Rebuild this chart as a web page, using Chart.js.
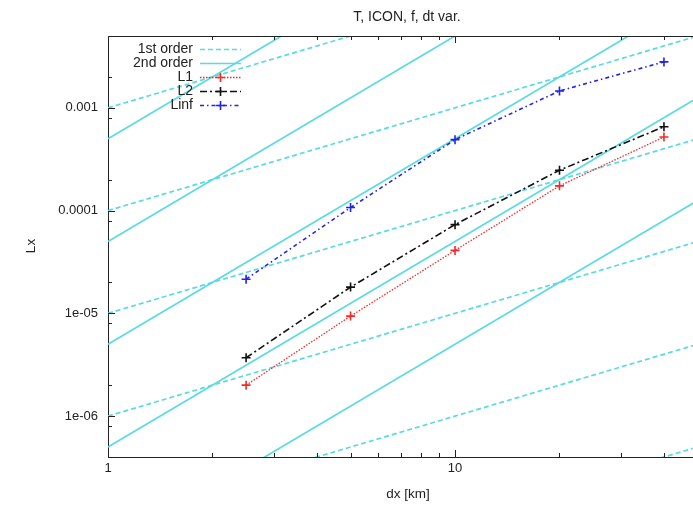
<!DOCTYPE html>
<html>
<head>
<meta charset="utf-8">
<script src="https://cdn.jsdelivr.net/npm/chart.js@4.4.1/dist/chart.umd.min.js"></script>
<style>
html,body{margin:0;padding:0;background:#fff;overflow:hidden}
</style>
</head>
<body>
<canvas id="c" width="693" height="505"></canvas>
<script>
// measured errors vs grid spacing
const DX=[2.5,5,10,20,40];
const L1=[2.0e-6,9.4e-6,4.1e-5,1.74e-4,5.2e-4];
const L2=[3.7e-6,1.8e-5,7.3e-5,2.47e-4,6.55e-4];
const LINF=[2.15e-5,1.07e-4,4.9e-4,1.46e-3,2.8e-3];

// reference slopes, end values at dx=1 and dx=100
const REF_X=[1,100];
const FIRST_ORDER=[[1e-3,1e-1],[1e-4,1e-2],[1e-5,1e-3],[1e-6,1e-4],[1e-7,1e-5],[1e-8,1e-6]];
const SECOND_ORDER=[[5e-4,5],[5e-5,5e-1],[5e-6,5e-2],[5e-7,5e-3],[5e-8,5e-4]];

// axes
const X_MAJOR=[1,10];
const X_LABELS=['1','10'];
const X_MINOR=[2,3,4,5,6,7,8,9,20,30,40];
const Y_MAJOR=[1e-6,1e-5,1e-4,1e-3];
const Y_LABELS=['1e-06','1e-05','0.0001','0.001'];
const Y_MINOR=[8e-7,2e-6,8e-6,2e-5,8e-5,2e-4,8e-4,2e-3];

const FONT='"Liberation Sans", Arial, sans-serif';
const CYAN='#5adbe0';

function refSet(vals,i,label,dash){
  return {label:i===0?label:'',data:REF_X.map((x,k)=>({x,y:vals[k]})),
    borderColor:CYAN,borderWidth:1.7,borderDash:dash,pointRadius:0,fill:false,tension:0,order:2};
}
function errSet(label,vals,col,dash,w){
  return {label,data:DX.map((x,k)=>({x,y:vals[k]})),borderColor:col,backgroundColor:col,
    borderWidth:w,borderDash:dash,pointStyle:'cross',pointRadius:4.5,pointBorderWidth:1.6,
    pointBorderColor:col,fill:false,tension:0,order:1,isErr:true};
}

const datasets=[
  ...FIRST_ORDER.map((v,i)=>refSet(v,i,'1st order',[5,3])),
  ...SECOND_ORDER.map((v,i)=>refSet(v,i,'2nd order',[])),
  errSet('L1',L1,'#f22a2a',[1.5,1.5],1.3),
  errSet('L2',L2,'#111111',[7,3,2,3],1.6),
  errSet('Linf',LINF,'#2323e6',[4,3,1.5,3],1.6)
];

const frame={
  id:'frame',
  afterDatasetsDraw(chart){
    const {ctx,chartArea:a,scales:{x,y}}=chart;
    ctx.save();
    ctx.strokeStyle='#222';ctx.lineWidth=1;
    ctx.beginPath();
    ctx.moveTo(a.left,a.top+0.5);ctx.lineTo(a.right,a.top+0.5);
    const xt=(v,len)=>{const p=Math.round(x.getPixelForValue(v))+0.5;
      ctx.moveTo(p,a.bottom);ctx.lineTo(p,a.bottom-len);ctx.moveTo(p,a.top);ctx.lineTo(p,a.top+len);};
    const yt=(v,len)=>{const p=Math.round(y.getPixelForValue(v))+0.5;
      ctx.moveTo(a.left,p);ctx.lineTo(a.left+len,p);};
    X_MAJOR.forEach(v=>xt(v,7));X_MINOR.forEach(v=>xt(v,4));
    Y_MAJOR.forEach(v=>yt(v,7));Y_MINOR.forEach(v=>yt(v,4));
    ctx.stroke();

    // key
    ctx.font='14px '+FONT;ctx.fillStyle='#222';ctx.textBaseline='middle';
    let row=0;
    chart.data.datasets.forEach(ds=>{
      if(!ds.label) return;
      const ly=49+row*14;row++;
      ctx.textAlign='right';ctx.fillStyle='#222';
      ctx.fillText(ds.label,193,ly);
      ctx.save();
      ctx.strokeStyle=ds.borderColor;ctx.lineWidth=ds.borderWidth;ctx.setLineDash(ds.borderDash||[]);
      ctx.beginPath();ctx.moveTo(200,ly+0.5);ctx.lineTo(241,ly+0.5);ctx.stroke();
      if(ds.isErr){
        ctx.setLineDash([]);ctx.lineWidth=1.6;ctx.beginPath();
        ctx.moveTo(216,ly+0.5);ctx.lineTo(225,ly+0.5);ctx.moveTo(220.5,ly-4);ctx.lineTo(220.5,ly+5);ctx.stroke();
      }
      ctx.restore();
    });

    // titles
    ctx.fillStyle='#222';ctx.textAlign='center';ctx.textBaseline='alphabetic';
    ctx.font='14px '+FONT;
    ctx.fillText('T, ICON, f, dt var.',407,21);
    ctx.font='13.5px '+FONT;
    ctx.fillText('dx [km]',408,498);
    ctx.save();ctx.translate(35,246);ctx.rotate(-Math.PI/2);ctx.fillText('Lx',0,0);ctx.restore();
    ctx.restore();
  }
};

new Chart(document.getElementById('c'),{
  type:'line',
  data:{datasets},
  options:{
    responsive:false,animation:false,
    layout:{autoPadding:false,padding:{top:36,left:0,right:0,bottom:0}},
    plugins:{legend:{display:false},tooltip:{enabled:false},title:{display:false}},
    scales:{
      x:{type:'logarithmic',min:1,max:48.5,
        afterBuildTicks:s=>{s.ticks=X_MAJOR.map(v=>({value:v}));},
        afterFit:s=>{s.height=48;},
        grid:{display:false,drawTicks:false},
        border:{display:true,color:'#222',width:1},
        ticks:{autoSkip:false,maxRotation:0,padding:4,color:'#222',font:{family:FONT,size:13},
          callback:(v)=>X_LABELS[X_MAJOR.indexOf(v)]||''}},
      y:{type:'logarithmic',min:4e-7,max:5e-3,
        afterBuildTicks:s=>{s.ticks=Y_MAJOR.map(v=>({value:v}));},
        afterFit:s=>{s.width=108;},
        grid:{display:false,drawTicks:false},
        border:{display:true,color:'#222',width:1},
        ticks:{autoSkip:false,padding:10,color:'#222',font:{family:FONT,size:13},
          callback:(v)=>{const i=Y_MAJOR.findIndex(m=>Math.abs(m-v)/m<1e-6);return i<0?'':Y_LABELS[i];}}}
    }
  },
  plugins:[frame]
});
</script>
</body>
</html>
